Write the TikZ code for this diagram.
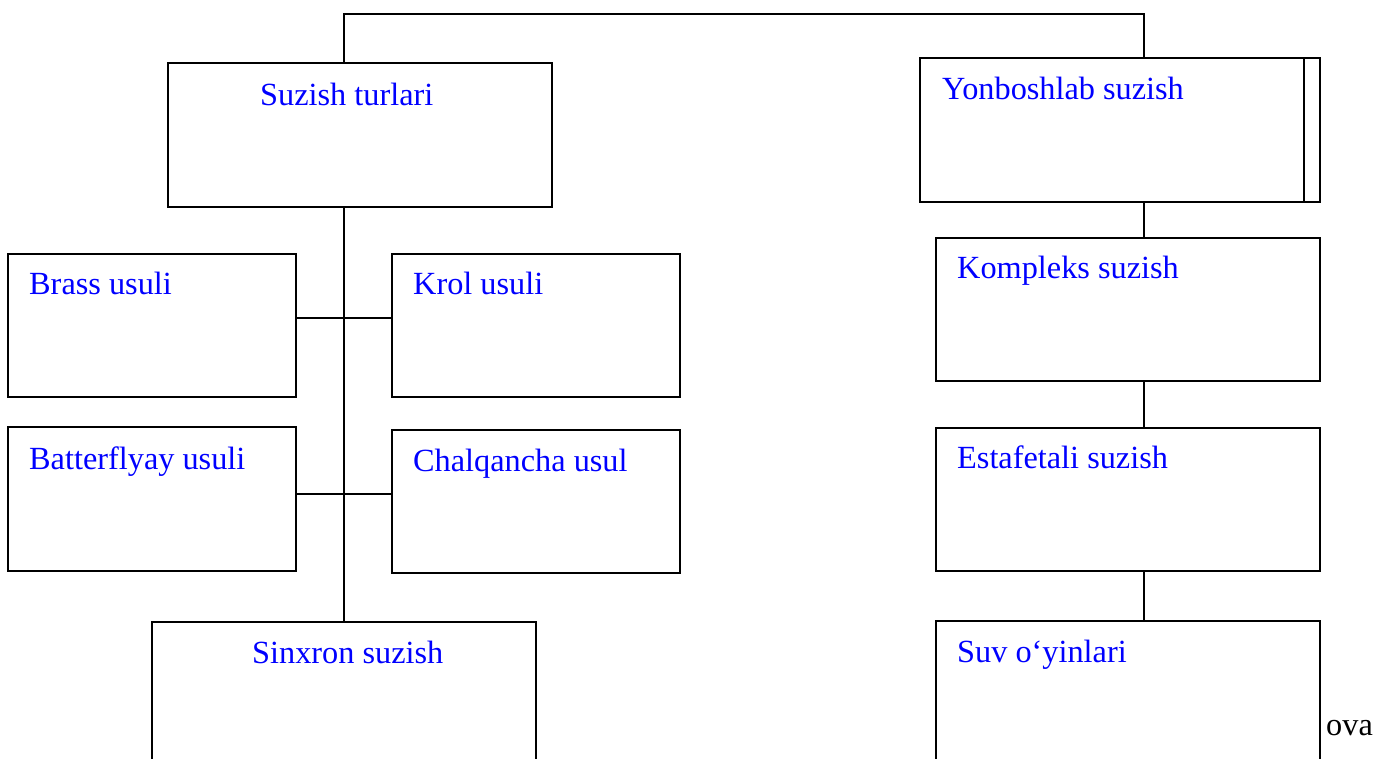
\documentclass[tikz,border=0pt]{standalone}
\usepackage{fontspec}
\setmainfont{Liberation Serif}
\begin{document}
\begin{tikzpicture}[x=1pt,y=-1pt,
  box/.style={draw=black,line width=1.6pt,rectangle,inner sep=0pt,outer sep=0pt,anchor=north west},
  lbl/.style={anchor=base west,inner sep=0pt,text=blue,font=\fontsize{32.3}{38}\selectfont},
  wire/.style={draw=black,line width=1.6pt}]
\useasboundingbox (0,0) rectangle (1384,758);
\clip (0,0) rectangle (1384,758);

% left branch: swimming styles
\node[box,minimum width=384pt,minimum height=144pt] (st) at (168,63) {};
\node[box,minimum width=288pt,minimum height=143pt] (br) at (8,254) {};
\node[box,minimum width=288pt,minimum height=143pt] (kr) at (392,254) {};
\node[box,minimum width=288pt,minimum height=144pt] (bt) at (8,427) {};
\node[box,minimum width=288pt,minimum height=143pt] (ch) at (392,430) {};
\node[box,minimum width=384pt,minimum height=200pt] (sx) at (152,622) {};

% right branch
\node[box,minimum width=400pt,minimum height=144pt] (yb) at (920,58) {};
\coordinate (yb-in-t) at (1304,58);
\coordinate (yb-in-b) at (1304,202);
\node[box,minimum width=384pt,minimum height=143pt] (ko) at (936,238) {};
\node[box,minimum width=384pt,minimum height=143pt] (es) at (936,428) {};
\node[box,minimum width=384pt,minimum height=200pt] (sv) at (936,621) {};

% labels
\node[lbl] (t-st) at (260,105) {Suzish turlari};
\node[lbl] (t-br) at (29,294) {Brass usuli};
\node[lbl] (t-kr) at (413,294) {Krol usuli};
\node[lbl] (t-bt) at (29,469) {Batterflyay usuli};
\node[lbl] (t-ch) at (413,471) {Chalqancha usul};
\node[lbl] (t-sx) at (252,663) {Sinxron suzish};
\node[lbl] (t-yb) at (942,99) {Yonboshlab suzish};
\node[lbl] (t-ko) at (957,278) {Kompleks suzish};
\node[lbl] (t-es) at (957,468) {Estafetali suzish};
\node[lbl] (t-sv) at (957,662) {Suv o‘yinlari};
\node[anchor=base west,inner sep=0pt,font=\fontsize{32.3}{38}\selectfont] (t-ova) at (1326,735) {ova};

% junction points of the connectors
\coordinate (top-l) at (344,14);
\coordinate (top-r) at (1144,14);
\coordinate (h1) at (344,318);
\coordinate (h2) at (344,494);

% connectors
\draw[wire] (st.north -| top-l) -- (top-l) -- (top-r) -- (yb.north -| top-r);
\draw[wire] (yb-in-t) -- (yb-in-b);
\draw[wire] (st.south -| top-l) -- (sx.north -| top-l);
\draw[wire] (br.east |- h1) -- (kr.west |- h1);
\draw[wire] (bt.east |- h2) -- (ch.west |- h2);
\draw[wire] (yb.south -| top-r) -- (ko.north -| top-r);
\draw[wire] (ko.south -| top-r) -- (es.north -| top-r);
\draw[wire] (es.south -| top-r) -- (sv.north -| top-r);
\end{tikzpicture}
\end{document}
